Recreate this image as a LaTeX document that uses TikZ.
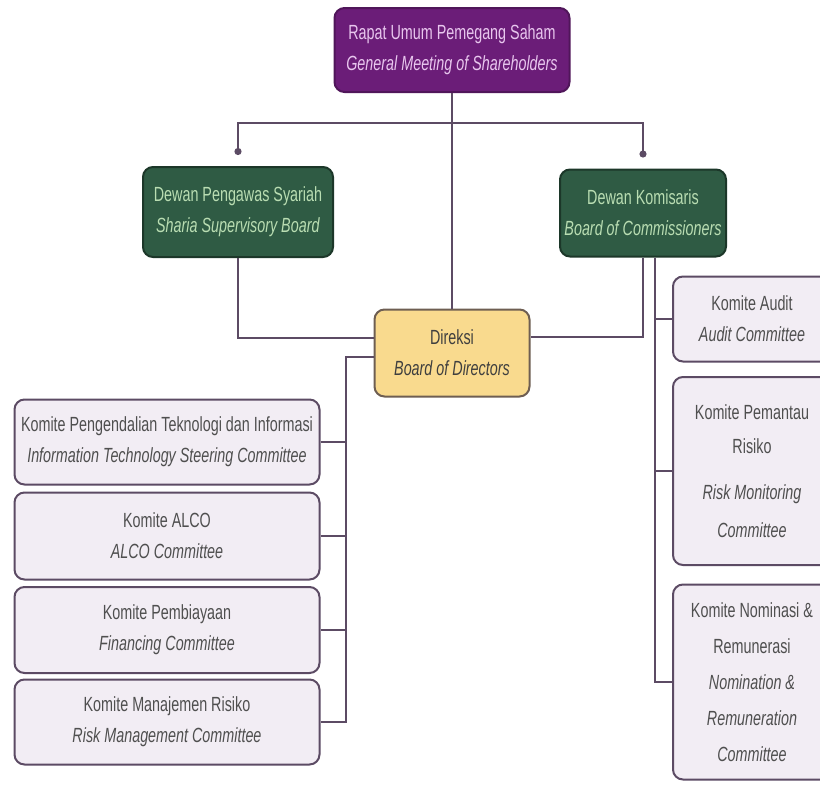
\documentclass[tikz,border=0pt]{standalone}
\usepackage{fontspec}
\setmainfont{Liberation Sans}[FakeStretch=0.7]
\usetikzlibrary{arrows.meta,positioning,calc}
\definecolor{gmsfill}{HTML}{6B1D78}
\definecolor{gmstext}{HTML}{E8C6EE}
\definecolor{boardfill}{HTML}{2F5B44}
\definecolor{boardtext}{HTML}{B9DDB2}
\definecolor{dirfill}{HTML}{F9DA8E}
\definecolor{dirline}{HTML}{6E5E52}
\definecolor{comfill}{HTML}{F2EDF4}
\definecolor{comline}{HTML}{5C4B64}
\definecolor{comtext}{HTML}{4F4F4F}

\begin{document}
\begin{tikzpicture}[x=1pt,y=-1pt,
  box/.style={rounded corners=10pt, line width=2pt, align=center, inner sep=0pt,
    font=\fontsize{20.5}{31}\selectfont},
  gmsbox/.style={box, draw=gmsfill!75!black, fill=gmsfill, text=gmstext},
  boardbox/.style={box, draw=boardfill!60!black, fill=boardfill, text=boardtext},
  dirbox/.style={box, draw=dirline, fill=dirfill, text=comtext!80!black},
  combox/.style={box, draw=comline, fill=comfill, text=comtext},
  link/.style={draw=comline, line width=2pt}]
  \useasboundingbox[fill=white] (0,0) rectangle (820,785);
  % top levels
  \node[gmsbox, minimum width=235pt, minimum height=84pt] (gms) at (452,50)
    {Rapat Umum Pemegang Saham\\\textit{General Meeting of Shareholders}};
  \node[boardbox, minimum width=190pt, minimum height=90pt] (ssb) at (238,212)
    {Dewan Pengawas Syariah\\\textit{Sharia Supervisory Board}};
  \node[boardbox, minimum width=166pt, minimum height=87pt] (boc) at (643,213)
    {Dewan Komisaris\\\textit{Board of Commissioners}};
  \node[dirbox, minimum width=155pt, minimum height=87pt] (dir) at (452,353)
    {Direksi\\\textit{Board of Directors}};
  % committees under the directors
  \node[combox, minimum width=305pt, minimum height=85pt] (itsc) at (167,442)
    {Komite Pengendalian Teknologi dan Informasi\\\textit{Information Technology Steering Committee}};
  \node[combox, minimum width=305pt, minimum height=87pt] (alco) at (167,536)
    {Komite ALCO\\\textit{ALCO Committee}};
  \node[combox, minimum width=305pt, minimum height=86pt] (fin) at (167,630)
    {Komite Pembiayaan\\\textit{Financing Committee}};
  \node[combox, minimum width=305pt, minimum height=85pt] (rmc) at (167,722)
    {Komite Manajemen Risiko\\\textit{Risk Management Committee}};
  % committees under the commissioners
  \node[combox, minimum width=158pt, minimum height=188pt,
    font=\fontsize{20.5}{34}\selectfont] (rmon) at (752,471)
    {Komite Pemantau\\Risiko\\[12pt]\textit{Risk Monitoring}\\[4pt]\textit{Committee}};
  \node[combox, minimum width=158pt, minimum height=85pt] (audit) at (752,319)
    {Komite Audit\\\textit{Audit Committee}};
  \node[combox, minimum width=158pt, minimum height=195pt,
    font=\fontsize{20.5}{36}\selectfont] (nom) at (752,682)
    {Komite Nominasi \&\\Remunerasi\\\textit{Nomination \&}\\\textit{Remuneration}\\\textit{Committee}};
  % connectors
  \coordinate (bar) at (0,123);
  \draw[link, {Circle[length=7pt]}-{Circle[length=7pt]}]
    ($(ssb.north)+(0,-11)$) |- (bar -| boc.north) -- ($(boc.north)+(0,-11)$);
  \draw[link] (gms.south) -- (dir.north);
  \draw[link] (ssb.south) |- ($(dir.west)+(0,-15)$);
  \draw[link] (boc.south) |- ($(dir.east)+(0,-16)$);
  \coordinate (lb) at ($(dir.west)+(-28,4)$);
  \draw[link] ($(dir.west)+(0,4)$) -- (lb) |- (rmc.east);
  \foreach \n in {itsc,alco,fin}
    \draw[link] (\n.east) -- (\n.east -| lb);
  \coordinate (rb) at ($(boc.south)+(12,0)$);
  \draw[link] (rb) |- (nom.west);
  \foreach \n in {audit,rmon}
    \draw[link] (\n.west) -- (\n.west -| rb);
\end{tikzpicture}
\end{document}
